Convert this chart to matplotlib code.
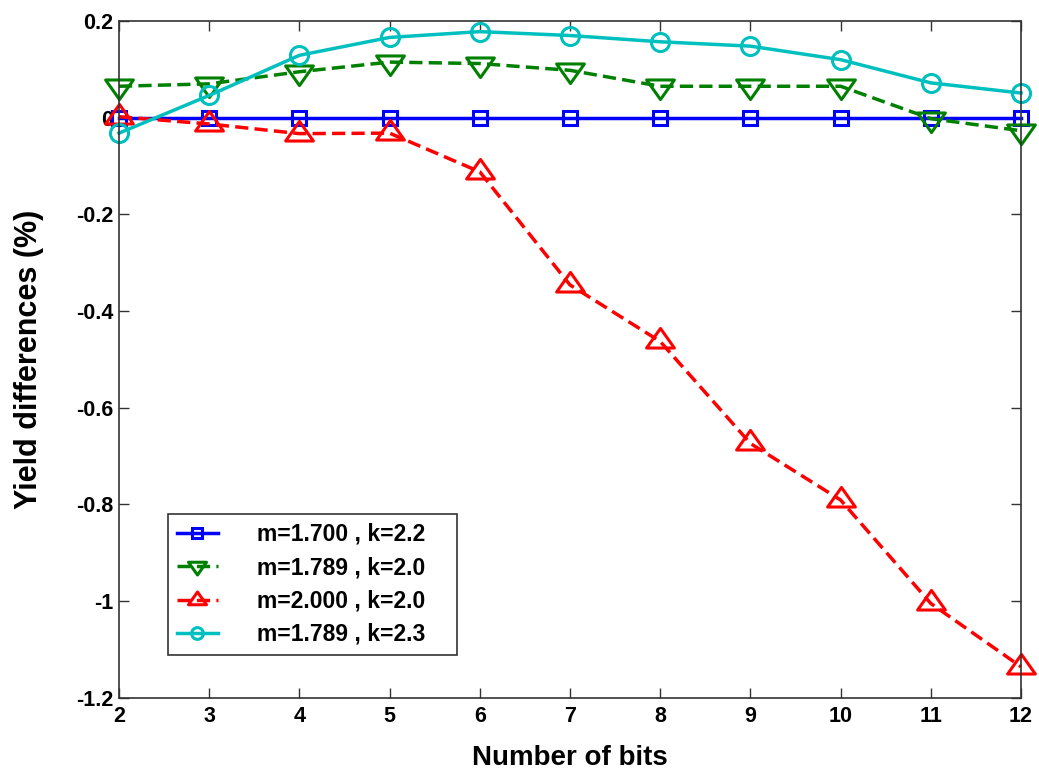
import matplotlib
matplotlib.use("Agg")
import matplotlib.pyplot as plt
from matplotlib.path import Path

bits = [2, 3, 4, 5, 6, 7, 8, 9, 10, 11, 12]
s1 = [0, 0, 0, 0, 0, 0, 0, 0, 0, 0, 0]
s2 = [0.065, 0.070, 0.095, 0.115, 0.112, 0.098, 0.065, 0.065, 0.065, -0.002, -0.027]
s3 = [0.002, -0.013, -0.033, -0.032, -0.112, -0.346, -0.463, -0.674, -0.791, -1.005, -1.136]
s4 = [-0.032, 0.046, 0.129, 0.166, 0.178, 0.170, 0.157, 0.148, 0.120, 0.072, 0.051]
labels = ["m=1.700 , k=2.2", "m=1.789 , k=2.0", "m=2.000 , k=2.0", "m=1.789 , k=2.3"]
yticks = [0.2, 0, -0.2, -0.4, -0.6, -0.8, -1, -1.2]
ytick_labels = ["0.2", "0", "-0.2", "-0.4", "-0.6", "-0.8", "-1", "-1.2"]

plt.rcParams['font.family'] = ['Liberation Sans', 'DejaVu Sans']

# MATLAB-style wide triangles centred on their centroid
a = 0.47
tri_down = Path([(-1, a), (1, a), (0, -2 * a), (-1, a)],
                [Path.MOVETO, Path.LINETO, Path.LINETO, Path.CLOSEPOLY])
tri_up = Path([(-1, -a), (1, -a), (0, 2 * a), (-1, -a)],
              [Path.MOVETO, Path.LINETO, Path.LINETO, Path.CLOSEPOLY])

fig = plt.figure(figsize=(10.39, 7.78), dpi=100)
ax = fig.add_axes([0.1145, 0.1032, 0.8682, 0.8698])

lw = 2.5
mew = 2.2
dash = (3.8, 1.8)
common = dict(markerfacecolor='none', markeredgewidth=mew, linewidth=lw, clip_on=False)
ax.plot(bits, s1, '-', color='#0000ff', marker='s', markersize=10.5, label=labels[0], **common)
ax.plot(bits, s2, '--', color='#008000', marker=tri_down, markersize=20, label=labels[1],
        dashes=dash, **common)
ax.plot(bits, s3, '--', color='#ff0000', marker=tri_up, markersize=20, label=labels[2],
        dashes=dash, **common)
ax.plot(bits, s4, '-', color='#00bfbf', marker='o', markersize=13, label=labels[3], **common)

ax.set_xlim(2, 12)
ax.set_ylim(-1.2, 0.2)
ax.set_xticks(bits)
ax.set_xticklabels([str(b) for b in bits], fontsize=15.5, fontweight='bold')
ax.set_yticks(yticks)
ax.set_yticklabels(ytick_labels, fontsize=15.5, fontweight='bold')
ax.tick_params(axis='both', direction='in', length=7, width=1, top=True, right=True,
               colors='#333333', labelcolor='black')
ax.tick_params(axis='x', pad=6)
ax.tick_params(axis='y', pad=4)
for sp in ax.spines.values():
    sp.set_color('#333333')
    sp.set_linewidth(1.2)

ax.set_xlabel("Number of bits", fontsize=20, fontweight='bold', labelpad=13)
ax.set_ylabel("Yield differences (%)", fontsize=22, fontweight='bold', labelpad=23)

leg = ax.legend(loc='lower left', bbox_to_anchor=(0.054, 0.063, 0.3204, 0.2),
                mode='expand', prop={'weight': 'bold', 'size': 16.5},
                frameon=True, fancybox=False, edgecolor='black', handlelength=1.8,
                handletextpad=1.7, borderpad=0.4, labelspacing=0.45, markerscale=0.65,
                borderaxespad=0)
leg.get_frame().set_linewidth(1.2)

fig.savefig("out.png", dpi=100)
